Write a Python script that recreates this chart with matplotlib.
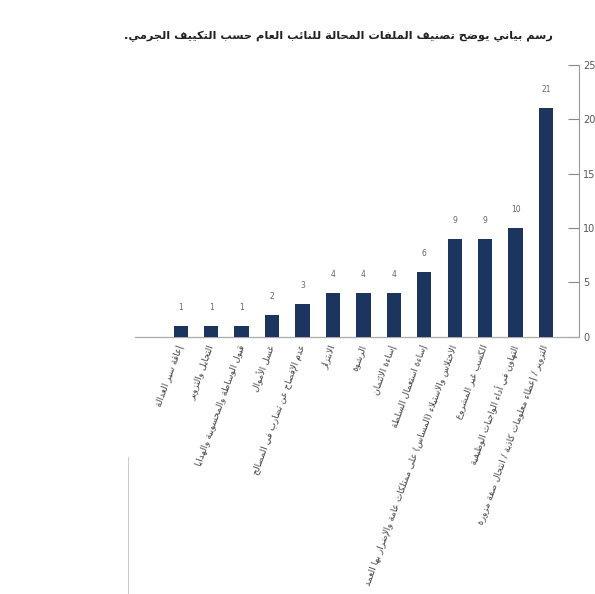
import matplotlib
matplotlib.use('Agg')
import matplotlib.pyplot as plt
from matplotlib.lines import Line2D

# ========================
# 数据
# ========================
categories = [
    'إعاقة سير العدالة',
    'التحايل والتزوير',
    'قبول الوساطة والمحسوبية والهدايا',
    'غسل الأموال',
    'عدم الإفصاح عن تضارب في المصالح',
    'الابتزاز',
    'الرشوة',
    'إساءة الائتمان',
    'إساءة استعمال السلطة',
    'الاختلاس والاستيلاء (المساس) على ممتلكات عامة والإضرار بها العمد',
    'الكسب غير المشروع',
    'التهاون في أداء الواجبات الوظيفية',
    'التزوير / إعطاء معلومات كاذبة / انتحال صفة مزورة',
]
values = [1, 1, 1, 2, 3, 4, 4, 4, 6, 9, 9, 10, 21]
y_ticks = [0, 5, 10, 15, 20, 25]
title = 'رسم بياني يوضح تصنيف الملفات المحالة للنائب العام حسب التكييف الجرمي.'

# ========================
# 阿拉伯文字形处理（matplotlib 不做连写）
# ========================
_AR = [('ء', 0xFE80, 1), ('آ', 0xFE81, 2), ('أ', 0xFE83, 2), ('ؤ', 0xFE85, 2),
       ('إ', 0xFE87, 2), ('ئ', 0xFE89, 4), ('ا', 0xFE8D, 2), ('ب', 0xFE8F, 4),
       ('ة', 0xFE93, 2), ('ت', 0xFE95, 4), ('ث', 0xFE99, 4), ('ج', 0xFE9D, 4),
       ('ح', 0xFEA1, 4), ('خ', 0xFEA5, 4), ('د', 0xFEA9, 2), ('ذ', 0xFEAB, 2),
       ('ر', 0xFEAD, 2), ('ز', 0xFEAF, 2), ('س', 0xFEB1, 4), ('ش', 0xFEB5, 4),
       ('ص', 0xFEB9, 4), ('ض', 0xFEBD, 4), ('ط', 0xFEC1, 4), ('ظ', 0xFEC5, 4),
       ('ع', 0xFEC9, 4), ('غ', 0xFECD, 4), ('ف', 0xFED1, 4), ('ق', 0xFED5, 4),
       ('ك', 0xFED9, 4), ('ل', 0xFEDD, 4), ('م', 0xFEE1, 4), ('ن', 0xFEE5, 4),
       ('ه', 0xFEE9, 4), ('و', 0xFEED, 2), ('ى', 0xFEEF, 2), ('ي', 0xFEF1, 4)]
FORMS = {c: (base, n) for c, base, n in _AR}
LAM_ALEF = {'ا': 0xFEFB, 'أ': 0xFEF7, 'إ': 0xFEF9, 'آ': 0xFEF5}


def shape(s):
    out = []
    n = len(s)
    i = 0
    while i < n:
        c = s[i]
        if c not in FORMS:
            out.append(c)
            i += 1
            continue
        prev = s[i - 1] if i > 0 else None
        jp = prev in FORMS and FORMS[prev][1] == 4
        nxt = s[i + 1] if i + 1 < n else None
        if c == 'ل' and nxt in LAM_ALEF:
            out.append(chr(LAM_ALEF[nxt] + (1 if jp else 0)))
            i += 2
            continue
        base, nf = FORMS[c]
        jn = nf == 4 and nxt in FORMS
        if nf == 1:
            k = 0
        elif nf == 2:
            k = 1 if jp else 0
        else:
            k = 3 if (jp and jn) else 1 if jp else 2 if jn else 0
        out.append(chr(base + k))
        i += 1
    vis = ''.join(out)[::-1]
    return vis.translate(str.maketrans('()', ')('))


plt.rcParams['font.family'] = ['DejaVu Sans']

fig = plt.figure(figsize=(5.95, 5.94), dpi=100)
ax = fig.add_axes([0.227, 0.433, 0.746, 0.458])

x = list(range(len(values)))
bars = ax.bar(x, values, width=0.47, color='#1b355e', zorder=3)

for xi, v in zip(x, values):
    ax.annotate(str(v), (xi, v), xytext=(0, 10), textcoords='offset points',
                ha='center', va='bottom', fontsize=5.5, color='#666666')

ax.set_xlim(-1.5, 13.08)
ax.set_ylim(0, 25)
ax.set_yticks(y_ticks)
ax.yaxis.tick_right()
ax.tick_params(axis='y', direction='in', length=8, width=0.8, color='#888888',
               labelsize=7, labelcolor='#555555', pad=3)

ax.set_xticks(x)
ax.set_xticklabels([shape(c) for c in categories], rotation=70, ha='right',
                   va='center', rotation_mode='anchor', fontsize=6.5, color='#444444')
ax.tick_params(axis='x', length=0, pad=6)

ax.spines['top'].set_visible(False)
ax.spines['left'].set_visible(False)
ax.spines['right'].set_color('#999999')
ax.spines['right'].set_linewidth(0.8)
ax.spines['bottom'].set_color('#aaaaaa')
ax.spines['bottom'].set_linewidth(0.9)

fig.text(0.568, 0.938, shape(title), ha='center', va='center', fontsize=8.2,
         fontweight='bold', color='#222222')

# 左下角的细边线
fig.add_artist(Line2D([0.215, 0.215], [0.0, 0.23], color='#cccccc', linewidth=0.8))

fig.savefig('out.png', dpi=100)
